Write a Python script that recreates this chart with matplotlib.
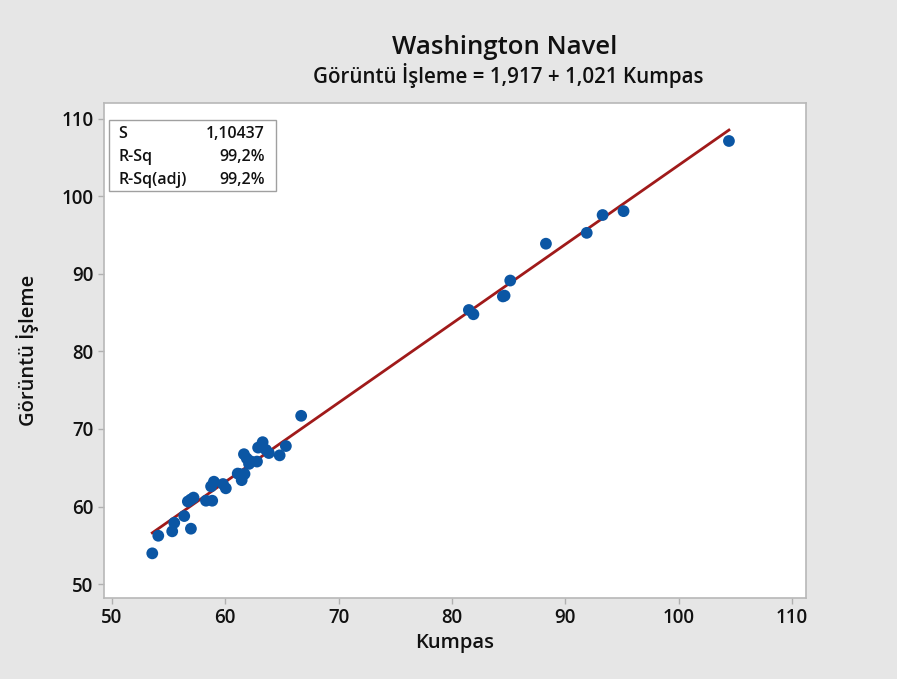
import matplotlib
matplotlib.use("Agg")
import matplotlib.pyplot as plt
import numpy as np

# Data
kumpas = [53.56, 54.09, 55.32, 55.50, 56.38, 56.97, 56.70, 56.95, 57.20, 58.30,
          58.85, 58.75, 59.00, 59.80, 60.05, 61.10, 61.25, 61.45, 61.70, 61.65,
          62.10, 62.30, 62.80, 62.90, 63.30, 63.85, 64.80, 65.35, 66.70, 81.50,
          81.90, 84.50, 84.65, 85.15, 88.30, 91.90, 93.30, 95.15, 104.45,
          61.90, 63.60]
goruntu = [53.96, 56.23, 56.80, 57.90, 58.77, 57.14, 60.65, 60.90, 61.15, 60.75,
           60.75, 62.60, 63.20, 62.90, 62.35, 64.25, 64.20, 63.40, 64.20, 66.75,
           65.50, 65.80, 65.80, 67.60, 68.30, 66.90, 66.60, 67.80, 71.70, 85.35,
           84.80, 87.10, 87.20, 89.15, 93.90, 95.30, 97.60, 98.10, 107.15,
           66.20, 67.30]
intercept = 1.917
slope = 1.021
x_ticks = [50, 60, 70, 80, 90, 100, 110]
y_ticks = [50, 60, 70, 80, 90, 100, 110]
stats_labels = ["S", "R-Sq", "R-Sq(adj)"]
stats_values = ["1,10437", "99,2%", "99,2%"]

FONT = ["Open Sans", "DejaVu Sans"]
plt.rcParams['font.family'] = FONT

W, H = 897, 684
fig = plt.figure(figsize=(W / 100, H / 100), dpi=100)
fig.patch.set_facecolor("#e6e6e6")

ax = fig.add_axes([104 / W, 1 - 598 / H, (806 - 104) / W, (598 - 103) / H])
ax.set_facecolor("white")

xl = np.linspace(min(kumpas), max(kumpas), 200)
ax.plot(xl, intercept + slope * xl, color="#a01a1a", lw=2.0, zorder=2)
ax.scatter(kumpas, goruntu, s=72, color="#0b56a4", edgecolors="none", zorder=3)

ax.set_xlim(49.3, 111.25)
ax.set_ylim(48.2, 112.05)
ax.set_xticks(x_ticks)
ax.set_yticks(y_ticks)
ax.tick_params(axis="both", colors="#b0b0b0", labelcolor="#111111",
               labelsize=13.5, length=4, width=1, direction="out")
for lab in ax.get_xticklabels() + ax.get_yticklabels():
    lab.set_fontweight("semibold")
for sp in ax.spines.values():
    sp.set_color("#b8b8b8")
    sp.set_linewidth(1.2)

ax.set_xlabel("Kumpas", fontsize=14.5, fontweight="semibold", color="#111111", labelpad=3)
ax.set_ylabel("Görüntü İşleme", fontsize=14.5, fontweight="semibold", color="#111111", labelpad=16)

fig.text(505 / W, 1 - 48 / H, "Washington Navel", ha="center", va="center",
         fontsize=18.5, fontweight="semibold", color="#111111")
fig.text(508 / W, 1 - 76 / H, "Görüntü İşleme = 1,917 + 1,021 Kumpas", ha="center",
         va="center", fontsize=14.8, fontweight="semibold", color="#111111")

# stats box
from matplotlib.patches import Rectangle
bx0, by0, bx1, by1 = 109, 120, 276, 191
fig.patches.append(Rectangle((bx0 / W, 1 - by1 / H), (bx1 - bx0) / W, (by1 - by0) / H,
                             transform=fig.transFigure, facecolor="white",
                             edgecolor="#a0a0a0", lw=1.0, zorder=5))
rows_y = [134, 157, 180]
for lab, val, yy in zip(stats_labels, stats_values, rows_y):
    fig.text(118 / W, 1 - yy / H, lab, ha="left", va="center", fontsize=11.5,
             fontweight="semibold", color="#111111", zorder=6)
    fig.text(265 / W, 1 - yy / H, val, ha="right", va="center", fontsize=11.5,
             fontweight="semibold", color="#111111", zorder=6)

# bottom white strip
fig.patches.append(Rectangle((0, 0), 1, 5 / H, transform=fig.transFigure,
                             facecolor="white", edgecolor="none"))

fig.savefig("out.png", dpi=100, facecolor=fig.get_facecolor())
